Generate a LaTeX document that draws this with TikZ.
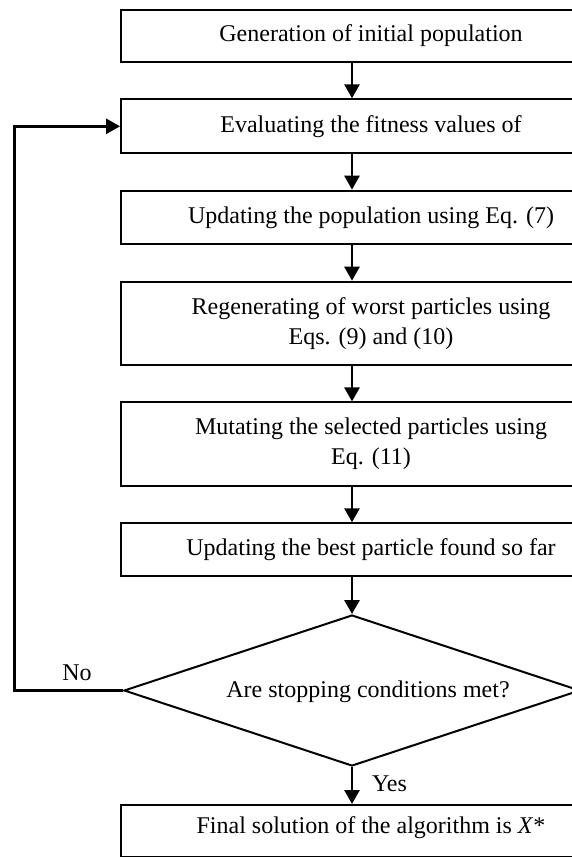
\documentclass[tikz,border=0pt]{standalone}
\usepackage{fontspec}
\setmainfont{Liberation Serif}
\usetikzlibrary{arrows.meta,shapes.geometric}
\begin{document}
\begin{tikzpicture}[x=0.5pt,y=-0.5pt,
  every node/.style={font=\fontsize{12}{15}\selectfont},
  stepbox/.style={draw,line width=1pt,rectangle,minimum width=250pt,inner sep=0pt,align=center},
  arr/.style={line width=1.4pt,-{Triangle[width=7.5pt,length=7pt]}}]
\useasboundingbox (0,0) rectangle (572,857);
\clip (0,0) rectangle (572,857);
\coordinate (ax) at (352,0);
\node[stepbox,minimum height=26pt] (b1) at (371,36) {Generation of initial population};
\node[stepbox,minimum height=27pt] (b2) at (371,126.3) {Evaluating the fitness values of};
\node[stepbox,minimum height=26.6pt] (b3) at (371,217.3) {Updating the population using Eq. (7)};
\node[stepbox,minimum height=41.6pt] (b4) at (371,323.3) {Regenerating of worst particles using\\Eqs. (9) and (10)};
\node[stepbox,minimum height=41.8pt] (b5) at (371,444.2) {Mutating the selected particles using\\Eq. (11)};
\node[stepbox,minimum height=26.4pt] (b6) at (371,549.7) {Updating the best particle found so far};
\node[draw,line width=1pt,diamond,minimum width=228pt,minimum height=75.5pt,inner sep=0pt] (d) at (352,690.5) {};
\node (dt) at (368,692) {Are stopping conditions met?};
\node[stepbox,minimum height=26pt,anchor=north,text depth=6pt] (b7) at (371,804) {Final solution of the algorithm is \textit{X}*};
\draw[arr] (b1.south -| ax) -- (b2.north -| ax);
\draw[arr] (b2.south -| ax) -- (b3.north -| ax);
\draw[arr] (b3.south -| ax) -- (b4.north -| ax);
\draw[arr] (b4.south -| ax) -- (b5.north -| ax);
\draw[arr] (b5.south -| ax) -- (b6.north -| ax);
\draw[arr] (b6.south -| ax) -- (d.north);
\draw[arr] (d.south) -- node[right=6pt,pos=0.45] (yes) {Yes} (b7.north -| ax);
\coordinate (lx) at (14.6,0);
\draw[arr] (d.west) -- (d.west -| lx) -- (b2.west -| lx) -- (b2.west);
\node (no) at (77,673) {No};
\end{tikzpicture}
\end{document}
